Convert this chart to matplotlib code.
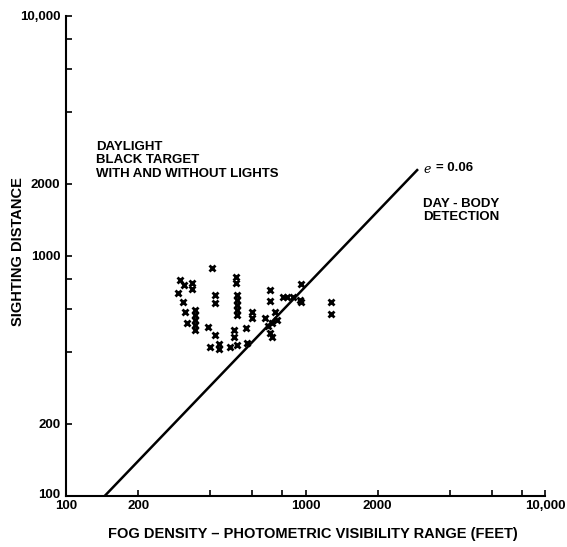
import matplotlib
matplotlib.use("Agg")
import matplotlib.pyplot as plt
import matplotlib.transforms as mtransforms
from matplotlib.ticker import FixedLocator, FixedFormatter

plt.rcParams['font.family'] = ['Liberation Sans', 'DejaVu Sans']

# visibility range (feet) and sighting distance
vis_range = [406, 299, 310, 335, 335, 293, 307, 313, 319,
             345, 345, 345, 345, 345, 418, 418, 391, 418, 398,
             434, 434, 482, 516, 501, 501, 511, 511, 516, 516,
             516, 516, 516, 562, 568, 596, 596, 708, 708, 675,
             694, 708, 722, 743, 757, 722, 802, 841, 883, 962,
             944, 962, 1283, 1283]
sight_dist = [891, 794, 757, 772, 729, 701, 643, 584, 526,
              596, 568, 541, 516, 492, 688, 637, 506, 469, 418,
              430, 410, 418, 426, 492, 460, 818, 772, 688, 656,
              625, 596, 568, 501, 434, 584, 552, 722, 649, 552,
              511, 478, 526, 584, 541, 460, 675, 675, 675, 764,
              656, 643, 643, 573]

# e = 0.06 line
line_x = [145, 2950]
line_y = [100, 2300]

tick_vals = [100, 200, 400, 600, 800, 1000, 2000, 4000, 6000, 8000, 10000]
tick_text = ['100', '200', '', '', '', '1000', '2000', '', '', '', '10,000']

W, H = 567, 547
fig = plt.figure(figsize=(W / 100, H / 100), dpi=100)
ax = fig.add_axes([66 / W, 1 - 496 / H, (545 - 66) / W, (496 - 16) / H])

ax.set_xscale('log')
ax.set_yscale('log')
ax.set_xlim(100, 10000)
ax.set_ylim(100, 10000)

ax.plot(line_x, line_y, color='black', lw=1.8, solid_capstyle='butt')
ax.plot(vis_range, sight_dist, 'x', color='black', ms=4.5, mew=2)

for s in ['top', 'right']:
    ax.spines[s].set_visible(False)
for s in ['left', 'bottom']:
    ax.spines[s].set_linewidth(1.5)

for axis in [ax.xaxis, ax.yaxis]:
    axis.set_major_locator(FixedLocator(tick_vals))
    axis.set_major_formatter(FixedFormatter(tick_text))
    axis.set_minor_locator(FixedLocator([]))
ax.tick_params(which='both', direction='in', length=4, width=1.2,
               labelsize=9.5)
ax.tick_params(axis='x', pad=3)
ax.tick_params(axis='y', pad=4)
for lab in ax.get_xticklabels() + ax.get_yticklabels():
    lab.set_fontweight('bold')

# lift the lower "100" on the y axis a little, as in the scan
ylab = ax.get_yticklabels()[0]
ylab.set_transform(ylab.get_transform() +
                   mtransforms.ScaledTranslation(0, 3 / 100, fig.dpi_scale_trans))

kw = dict(fontsize=9.5, fontweight='bold', color='black')
fig.text(96 / W, 1 - 141 / H, 'DAYLIGHT\nBLACK TARGET\nWITH AND WITHOUT LIGHTS',
         va='top', ha='left', linespacing=1.15, **kw)
fig.text(423 / W, 1 - 170 / H, 'e', family='DejaVu Serif', style='italic',
         fontsize=9, va='center', ha='left')
fig.text(436 / W, 1 - 168 / H, '= 0.06', va='center', ha='left', **kw)
fig.text(423 / W, 1 - 198 / H, 'DAY - BODY\nDETECTION', va='top', ha='left',
         linespacing=1.15, **kw)
fig.text(18 / W, 1 - 252 / H, 'SIGHTING DISTANCE', rotation=90,
         va='center', ha='center', fontsize=10.5, fontweight='bold')
fig.text(313 / W, 1 - 534 / H,
         'FOG DENSITY \u2013 PHOTOMETRIC VISIBILITY RANGE (FEET)',
         va='center', ha='center', fontsize=10.5, fontweight='bold')

fig.savefig('out.png', dpi=100)
